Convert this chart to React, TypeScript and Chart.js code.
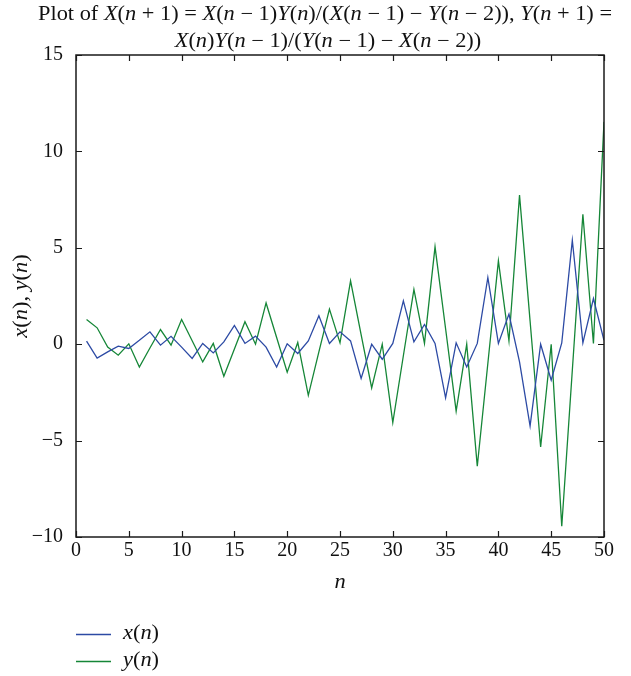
import React, { useEffect, useRef } from "react";
import { Chart, registerables } from "chart.js";

Chart.register(...registerables);

const nValues: number[] = Array.from({ length: 50 }, (_, i) => i + 1);

const xSeries: number[] = [
  0.16, -0.72, -0.4, -0.1, -0.22, 0.2, 0.64, -0.05, 0.41, -0.15,
  -0.74, 0.04, -0.45, 0.12, 0.97, 0.04, 0.42, -0.15, -1.18, 0.02,
  -0.48, 0.17, 1.47, 0.04, 0.64, 0.17, -1.78, 0.0, -0.78, 0.04,
  2.25, 0.12, 1.02, 0.04, -2.78, 0.07, -1.18, 0.04, 3.46, 0.04,
  1.56, -0.92, -4.25, 0.0, -1.87, 0.07, 5.39, 0.07, 2.37, 0.2,
];

const ySeries: number[] = [
  1.28, 0.85, -0.15, -0.57, 0.02, -1.18, -0.2, 0.76, -0.05, 1.28,
  0.18, -0.92, 0.04, -1.66, -0.25, 1.17, 0.0, 2.14, 0.35, -1.45,
  0.09, -2.65, -0.4, 1.82, 0.07, 3.28, 0.5, -2.27, 0.0, -4.06,
  -0.6, 2.84, 0.04, 5.05, 0.8, -3.47, 0.0, -6.33, -1.0, 4.32,
  0.17, 7.73, 1.2, -5.33, 0.0, -9.44, -1.35, 6.74, 0.04, 11.53,
];

const xTickValues: number[] = [0, 5, 10, 15, 20, 25, 30, 35, 40, 45, 50];
const yTickValues: number[] = [-10, -5, 0, 5, 10, 15];

const titleLine1 = "X(n + 1) = X(n \u2212 1)Y(n)/(X(n \u2212 1) \u2212 Y(n \u2212 2)), Y(n + 1) =";
const titleLine2 = "X(n)Y(n \u2212 1)/(Y(n \u2212 1) \u2212 X(n \u2212 2))";
const titlePrefix = "Plot of ";
const yAxisTitle = "x(n), y(n)";
const xAxisTitle = "n";
const seriesNames: string[] = ["x(n)", "y(n)"];

const BLUE = "#2c4aa4";
const GREEN = "#158637";
const FONT_FAMILY = '"Liberation Serif", "DejaVu Serif", serif';
const TEXT_SIZE = 20;
const STRETCH = 1.12;

type Seg = { t: string; it: boolean };

function parseMath(s: string): Seg[] {
  const segs: Seg[] = [];
  for (const ch of s) {
    const it = /[A-Za-z]/.test(ch);
    const last = segs[segs.length - 1];
    if (last && last.it === it) last.t += ch;
    else segs.push({ t: ch, it });
  }
  return segs;
}

function fontFor(it: boolean, size: number) {
  return `${it ? "italic " : ""}${size}px ${FONT_FAMILY}`;
}

function measureSegs(ctx: CanvasRenderingContext2D, segs: Seg[], size: number) {
  let w = 0;
  for (const s of segs) {
    ctx.font = fontFor(s.it, size);
    w += ctx.measureText(s.t).width;
  }
  return w;
}

function drawSegs(
  ctx: CanvasRenderingContext2D,
  segs: Seg[],
  x: number,
  y: number,
  size: number,
  align: "left" | "center",
  sx: number,
  baseline: CanvasTextBaseline = "middle"
) {
  const w = measureSegs(ctx, segs, size);
  ctx.save();
  ctx.translate(x, y);
  ctx.scale(sx, 1);
  let cx = align === "center" ? -w / 2 : 0;
  ctx.textAlign = "left";
  ctx.textBaseline = baseline;
  for (const s of segs) {
    ctx.font = fontFor(s.it, size);
    ctx.fillText(s.t, cx, 0);
    cx += ctx.measureText(s.t).width;
  }
  ctx.restore();
}

const decorPlugin = {
  id: "decor",
  afterDraw(chart: any) {
    const ctx: CanvasRenderingContext2D = chart.ctx;
    const area = chart.chartArea;
    const xs = chart.scales.x;
    const ys = chart.scales.y;
    ctx.save();
    // box
    ctx.strokeStyle = "#1a1a1a";
    ctx.lineWidth = 1.5;
    ctx.strokeRect(area.left, area.top, area.right - area.left, area.bottom - area.top);
    // inward ticks
    ctx.lineWidth = 1.2;
    const tl = 6;
    ctx.beginPath();
    for (const v of xTickValues) {
      const px = Math.round(xs.getPixelForValue(v)) + 0.5;
      ctx.moveTo(px, area.bottom);
      ctx.lineTo(px, area.bottom - tl);
      ctx.moveTo(px, area.top);
      ctx.lineTo(px, area.top + tl);
    }
    for (const v of yTickValues) {
      const py = Math.round(ys.getPixelForValue(v)) + 0.5;
      ctx.moveTo(area.left, py);
      ctx.lineTo(area.left + tl, py);
      ctx.moveTo(area.right, py);
      ctx.lineTo(area.right - tl, py);
    }
    ctx.stroke();

    ctx.fillStyle = "#111";
    // title
    const l1: Seg[] = [{ t: titlePrefix, it: false }, ...parseMath(titleLine1)];
    const l2: Seg[] = parseMath(titleLine2);
    const w1 = measureSegs(ctx, l1, TEXT_SIZE);
    const tsx = 574 / w1;
    drawSegs(ctx, l1, 325, 20, TEXT_SIZE, "center", tsx, "alphabetic");
    drawSegs(ctx, l2, 328, 47, TEXT_SIZE, "center", tsx, "alphabetic");

    // x axis title
    drawSegs(ctx, parseMath(xAxisTitle), (area.left + area.right) / 2, 583, TEXT_SIZE, "center", STRETCH);

    // y axis title
    ctx.save();
    ctx.translate(22, (area.top + area.bottom) / 2);
    ctx.rotate(-Math.PI / 2);
    drawSegs(ctx, parseMath(yAxisTitle), 0, 0, TEXT_SIZE, "center", STRETCH);
    ctx.restore();

    // legend
    const colors = [BLUE, GREEN];
    const ly = [634, 661];
    seriesNames.forEach((name, i) => {
      ctx.strokeStyle = colors[i];
      ctx.lineWidth = 1.3;
      ctx.beginPath();
      ctx.moveTo(76, ly[i] + 0.5);
      ctx.lineTo(111, ly[i] + 0.5);
      ctx.stroke();
      ctx.fillStyle = "#111";
      drawSegs(ctx, parseMath(name), 123, ly[i], TEXT_SIZE, "left", STRETCH);
    });
    ctx.restore();
  },
};

export default function App() {
  const ref = useRef<HTMLCanvasElement | null>(null);

  useEffect(() => {
    if (!ref.current) return;
    const chart = new Chart(ref.current, {
      type: "line",
      data: {
        datasets: [
          {
            label: seriesNames[0],
            data: nValues.map((n, i) => ({ x: n, y: xSeries[i] })),
            borderColor: BLUE,
            borderWidth: 1.3,
            pointRadius: 0,
            tension: 0,
          },
          {
            label: seriesNames[1],
            data: nValues.map((n, i) => ({ x: n, y: ySeries[i] })),
            borderColor: GREEN,
            borderWidth: 1.3,
            pointRadius: 0,
            tension: 0,
          },
        ],
      },
      options: {
        animation: false,
        responsive: false,
        layout: { padding: { top: 55, right: 27, left: 0, bottom: 0 } },
        plugins: {
          legend: { display: false },
          title: { display: false },
          tooltip: { enabled: false },
        },
        scales: {
          x: {
            type: "linear",
            min: 0,
            max: 50,
            grid: { display: false, drawTicks: false },
            border: { display: false },
            afterFit: (s: any) => {
              s.height = 139;
            },
            afterBuildTicks: (s: any) => {
              s.ticks = xTickValues.map((v) => ({ value: v }));
            },
            ticks: {
              padding: 2,
              color: "#111",
              font: { family: FONT_FAMILY, size: 20 },
              maxRotation: 0,
              autoSkip: false,
            },
          },
          y: {
            type: "linear",
            min: -10,
            max: 15,
            grid: { display: false, drawTicks: false },
            border: { display: false },
            afterFit: (s: any) => {
              s.width = 76;
            },
            afterBuildTicks: (s: any) => {
              s.ticks = yTickValues.map((v) => ({ value: v }));
            },
            ticks: {
              padding: 13,
              color: "#111",
              font: { family: FONT_FAMILY, size: 20 },
              callback: (v: any) => (Number(v) < 0 ? "\u2212" + Math.abs(Number(v)) : String(v)),
            },
          },
        },
      },
      plugins: [decorPlugin],
    });
    return () => chart.destroy();
  }, []);

  return (
    <div style={{ position: "absolute", left: 0, top: 0, width: 631, height: 676, background: "#fff" }}>
      <canvas ref={ref} width={631} height={676} style={{ width: 631, height: 676, display: "block" }} />
    </div>
  );
}
